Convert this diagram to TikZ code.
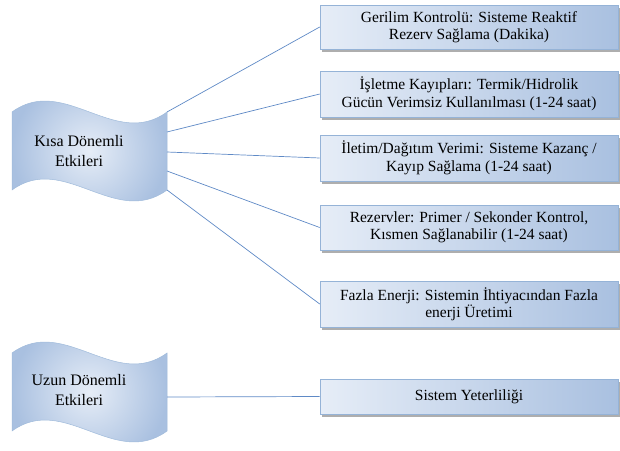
\documentclass[tikz,border=0pt]{standalone}
\usepackage{fontspec}
\setmainfont{Liberation Serif}
\newfontfamily\timesfont{Liberation Serif}
\usetikzlibrary{shadows}
\definecolor{boxlite}{HTML}{E6EDF7}
\definecolor{boxdark}{HTML}{A9C0E0}
\definecolor{boxline}{HTML}{95B3D7}
\definecolor{wire}{HTML}{5F8AC6}
\begin{document}
\begin{tikzpicture}[x=1pt,y=-1pt,
  effect/.style={draw=boxline,line width=0.6pt,left color=boxlite,right color=boxdark,minimum width=298pt,inner sep=2pt,align=center,font=\timesfont\fontsize{15.5}{17.5}\selectfont,drop shadow={shadow xshift=2pt,shadow yshift=-2.5pt,fill=black!45,opacity=0.7}},
  wave/.style={draw=boxline!90,line width=0.5pt,inner color=boxlite,outer color=boxdark},
  wavetext/.style={align=center,font=\timesfont\fontsize{16}{20}\selectfont},
  link/.style={draw=wire,line width=0.7pt}]
\useasboundingbox (0,0) rectangle (620,450);
% short-term wave
\path[wave] (12,112) .. controls (64,74) and (115,150) .. (167,112) -- (167,190) .. controls (115,228) and (64,152) .. (12,190) -- cycle;
\node[wavetext] (kisa) at (79,151) {Kısa Dönemli\\ Etkileri};
\coordinate (k1) at (167,112);
\coordinate (k2) at (167,132);
\coordinate (k3) at (167,152);
\coordinate (k4) at (167,171);
\coordinate (k5) at (167,190);
% long-term wave
\path[wave] (12,353) .. controls (64,315) and (115,391) .. (167,353) -- (167,431) .. controls (115,469) and (64,393) .. (12,431) -- cycle;
\node[wavetext] (uzun) at (79,390) {Uzun Dönemli\\ Etkileri};
\coordinate (u1) at (167,397);
% effect boxes
\node[effect,minimum height=44pt] (gerilim) at (469,27) {Gerilim Kontrolü: Sisteme Reaktif\\ Rezerv Sağlama (Dakika)};
\node[effect,minimum height=46pt] (isletme) at (469,94) {İşletme Kayıpları: Termik/Hidrolik\\ Gücün Verimsiz Kullanılması (1-24 saat)};
\node[effect,minimum height=46pt] (iletim) at (469,158) {İletim/Dağıtım Verimi: Sisteme Kazanç /\\ Kayıp Sağlama (1-24 saat)};
\node[effect,minimum height=45pt] (rezerv) at (469,227.5) {Rezervler: Primer / Sekonder Kontrol,\\ Kısmen Sağlanabilir (1-24 saat)};
\node[effect,minimum height=46pt] (fazla) at (469,304) {Fazla Enerji: Sistemin İhtiyacından Fazla\\ enerji Üretimi};
\node[effect,minimum height=35pt] (yeter) at (469,396.5) {Sistem Yeterliliği};
\draw[link] (k1) -- (gerilim.west);
\draw[link] (k2) -- (isletme.west);
\draw[link] (k3) -- (iletim.west);
\draw[link] (k4) -- (rezerv.west);
\draw[link] (k5) -- (fazla.west);
\draw[link] (u1) -- (yeter.west);
\end{tikzpicture}
\end{document}
